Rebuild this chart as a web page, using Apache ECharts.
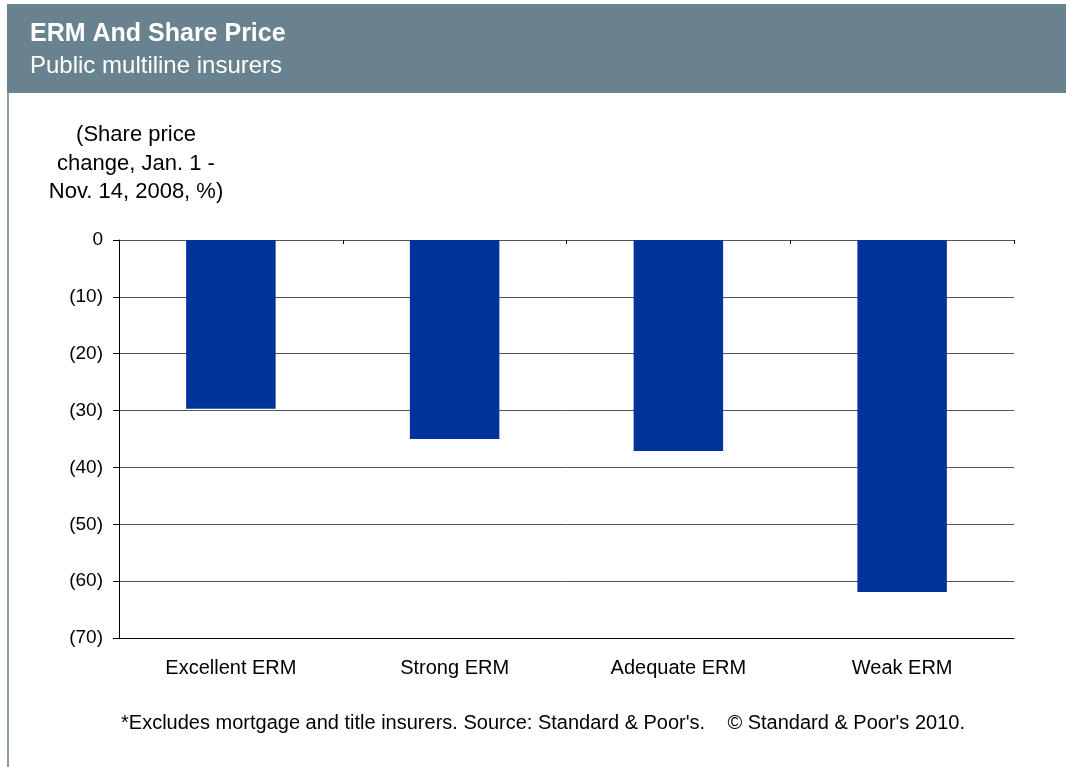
<!DOCTYPE html>
<html>
<head>
<meta charset="utf-8">
<script src="https://cdn.jsdelivr.net/npm/echarts@6/dist/echarts.min.js"></script>
<style>
html,body{margin:0;padding:0;background:#fff;}
#c{width:1066px;height:767px;}
</style>
</head>
<body>
<div id="c"></div>
<script>
const categories = ['Excellent ERM', 'Strong ERM', 'Adequate ERM', 'Weak ERM'];
const shareChange = [-29.7, -35.0, -37.1, -61.9];
const yMin = -70, yMax = 0, yStep = 10;

const chart = echarts.init(document.getElementById('c'), null, {renderer: 'canvas'});
const font = '"Liberation Sans", Arial, sans-serif';
chart.setOption({
  backgroundColor: '#ffffff',
  animation: false,
  graphic: [
    {type: 'rect', shape: {x: 7, y: 4, width: 1059, height: 89}, style: {fill: '#68838f'}, z: -1},
    {type: 'rect', shape: {x: 7, y: 93, width: 2, height: 674}, style: {fill: '#8a9aa3'}, z: -1},
    {type: 'text', x: 30, y: 34, style: {text: 'ERM And Share Price', fill: '#ffffff', font: 'bold 25px ' + font, verticalAlign: 'middle'}},
    {type: 'text', x: 30, y: 66, style: {text: 'Public multiline insurers', fill: '#ffffff', font: '24px ' + font, verticalAlign: 'middle'}},
    {type: 'text', x: 136, y: 121, style: {text: '(Share price\nchange, Jan. 1 -\nNov. 14, 2008, %)', fill: '#000', font: '22px ' + font, align: 'center', lineHeight: 28.5}},
    {type: 'text', x: 543, y: 723, style: {text: "*Excludes mortgage and title insurers. Source: Standard & Poor's.    \u00A9 Standard & Poor's 2010.", fill: '#000', font: '20px ' + font, align: 'center', verticalAlign: 'middle'}}
  ],
  grid: {left: 119, right: 52, top: 240, bottom: 129, containLabel: false},
  xAxis: [{
    type: 'category',
    data: categories,
    position: 'bottom',
    axisLine: {onZero: false, lineStyle: {color: '#000', width: 1}},
    axisTick: {show: false},
    axisLabel: {color: '#000', fontSize: 20, fontFamily: font, margin: 20}
  }, {
    type: 'category',
    data: categories,
    position: 'top',
    axisLine: {show: false},
    axisTick: {show: true, inside: true, length: 4, lineStyle: {color: '#000'}},
    axisLabel: {show: false}
  }],
  yAxis: {
    type: 'value',
    min: yMin, max: yMax, interval: yStep,
    axisLine: {show: true, lineStyle: {color: '#000', width: 1}},
    axisTick: {show: true, length: 6, lineStyle: {color: '#000'}},
    axisLabel: {
      color: '#000', fontSize: 19, fontFamily: font, margin: 16,
      formatter: v => v < 0 ? '(' + Math.abs(v) + ')' : String(v)
    },
    splitLine: {show: true, lineStyle: {color: '#555', width: 1}}
  },
  series: [{
    type: 'bar',
    data: shareChange,
    barWidth: '40%',
    itemStyle: {color: '#003399'}
  }]
});
</script>
</body>
</html>
